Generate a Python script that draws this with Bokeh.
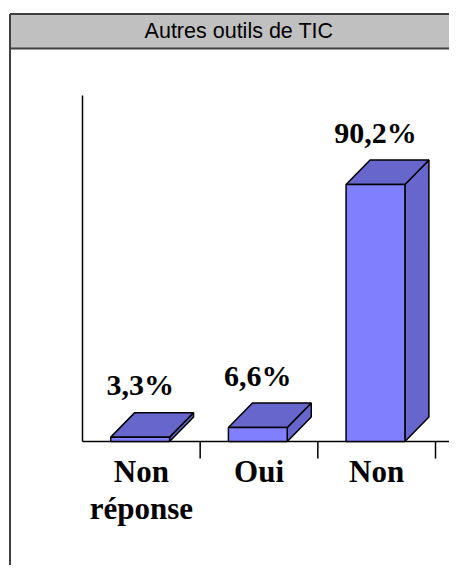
from bokeh.plotting import figure
from bokeh.embed import file_html
from bokeh.resources import INLINE
from bokeh.core.properties import value
from bokeh.models import Range1d

# ---- data ----
categories = ["Non\nréponse", "Oui", "Non"]
percents = [3.3, 6.6, 90.2]
pct_labels = ["3,3%", "6,6%", "90,2%"]
title_text = "Autres outils de TIC"

# ---- geometry / style ----
W, H = 449, 565
FLOOR = 1.8            # value at which the floor / x-axis sits
PX_PER_UNIT = 2.907    # vertical scale
SLOT_PX = 117.67       # horizontal px per category
AXIS_X_PX = 82         # canvas x of the value axis
BASE_Y_PX = 441        # canvas y (from top) of the baseline

x0 = -AXIS_X_PX / SLOT_PX
x1 = (W - AXIS_X_PX) / SLOT_PX
y1 = FLOOR + BASE_Y_PX / PX_PER_UNIT
y0 = FLOOR - (H - BASE_Y_PX) / PX_PER_UNIT

def xpx(px):
    return x0 + px / SLOT_PX

def ypx(px):
    return y1 - px / PX_PER_UNIT

p = figure(width=W, height=H, output_backend="svg", toolbar_location=None,
           x_range=Range1d(x0, x1), y_range=Range1d(y0, y1),
           min_border=0, outline_line_color=None)
p.axis.visible = False
p.grid.visible = False
p.background_fill_color = "white"
p.border_fill_color = "white"

FRONT = "#8080FF"
SHADE = "#6666CC"
DX = 24 / SLOT_PX
DY = 24.5 / PX_PER_UNIT
BW = 0.5

# outer frame + title bar
frame_left = xpx(9.5)
frame_right = xpx(475)
bar_top = ypx(13.5)
bar_bot = ypx(48)
p.quad(left=[frame_left], right=[frame_right], top=[bar_top], bottom=[bar_bot],
       fill_color="#C0C0C0", line_color=None)
p.segment(x0=[frame_left, frame_left, frame_left], y0=[bar_top, bar_bot, bar_top],
          x1=[frame_right, frame_right, frame_left], y1=[bar_top, bar_bot, ypx(H + 5)],
          line_color="#404040", line_width=2)
p.text(x=[xpx(238.5)], y=[(bar_top + bar_bot) / 2], text=[title_text],
       text_font=value("Liberation Sans"), text_font_size="21.5px",
       text_align="center", text_baseline="middle", text_color="black")

# axes
p.segment(x0=[0], y0=[FLOOR], x1=[0], y1=[FLOOR + 346 / PX_PER_UNIT],
          line_color="black", line_width=1.5)
p.segment(x0=[0], y0=[FLOOR], x1=[x1 + 0.1], y1=[FLOOR],
          line_color="black", line_width=1.5)
ticks = list(range(1, len(categories) + 1))
p.segment(x0=ticks, y0=[FLOOR] * len(ticks), x1=ticks,
          y1=[FLOOR - 17 / PX_PER_UNIT] * len(ticks), line_color="black", line_width=1.5)

# 3D bars
for i, v in enumerate(percents):
    cx = i + 0.49
    l, r = cx - BW / 2, cx + BW / 2
    # side face
    p.patch(x=[r, r + DX, r + DX, r], y=[FLOOR, FLOOR + DY, v + DY, v],
            fill_color=SHADE, line_color="black", line_width=1.5)
    # top face
    p.patch(x=[l, r, r + DX, l + DX], y=[v, v, v + DY, v + DY],
            fill_color=SHADE, line_color="black", line_width=1.5)
    # front face
    p.quad(left=[l], right=[r], bottom=[FLOOR], top=[v],
           fill_color=FRONT, line_color="black", line_width=1.5)

# value labels
p.text(x=[i + 0.49 for i in range(len(percents))], y=percents, text=pct_labels,
       y_offset=-(24.5 + 28), text_font=value("Liberation Serif"),
       text_font_style="bold", text_font_size="30px",
       text_align="center", text_baseline="alphabetic", text_color="black")

# category labels
p.text(x=[i + 0.5 for i in range(len(categories))], y=[FLOOR] * len(categories),
       text=categories, y_offset=12, text_font=value("Liberation Serif"),
       text_font_style="bold", text_font_size="31px", text_line_height=1.08,
       text_align="center", text_baseline="top", text_color="black")

open("out.html", "w").write(file_html(p, INLINE))
